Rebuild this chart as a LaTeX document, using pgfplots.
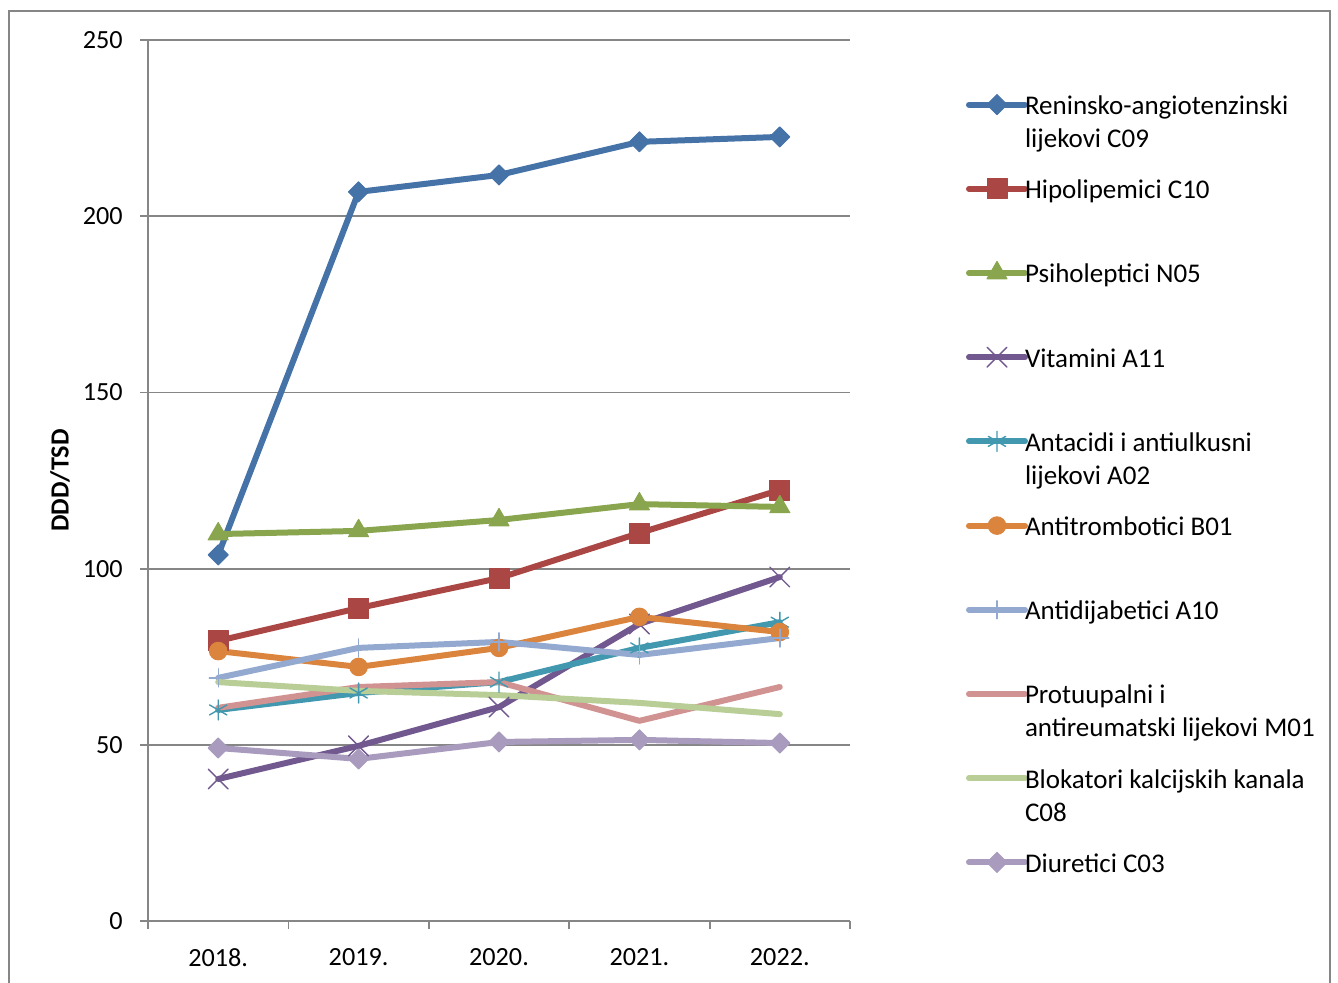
\documentclass[border=0pt]{standalone}
\usepackage{fontspec}
\setmainfont{Carlito}
\usepackage{pgfplots}
\pgfplotsset{compat=1.18}
\definecolor{cA}{HTML}{4572A7}
\definecolor{cB}{HTML}{AA4643}
\definecolor{cC}{HTML}{89A54E}
\definecolor{cD}{HTML}{71588F}
\definecolor{cE}{HTML}{4198AF}
\definecolor{cF}{HTML}{DB843D}
\definecolor{cG}{HTML}{93A9CF}
\definecolor{cH}{HTML}{D19392}
\definecolor{cI}{HTML}{B9CD96}
\definecolor{cJ}{HTML}{A99BBD}
\definecolor{axgray}{HTML}{868686}
\newcommand{\legt}[1]{\parbox[t]{8cm}{\raggedright #1}}
\begin{document}
\begin{tikzpicture}
\useasboundingbox (0,0) rectangle (669pt,491pt);
\draw[axgray, line width=0.9pt] (4.5pt,-10pt) rectangle (665pt,485.5pt);
\begin{axis}[
  at={(74pt,30.5pt)}, anchor=south west,
  scale only axis, width=351pt, height=440.5pt,
  xmin=-0.5, xmax=4.5, ymin=0, ymax=250,
  axis x line=bottom, axis y line=left,
  axis line style={-, axgray, line width=0.9pt},
  tick align=outside, major tick length=4pt,
  tick style={axgray, line width=0.9pt},
  xtick={-0.5,0.5,...,4.5}, xticklabels={,,,,,,},
  extra x ticks={0,1,2,3,4},
  extra x tick labels={2018.,2019.,2020.,2021.,2022.},
  extra x tick style={major tick length=0pt},
  ytick={0,50,...,250},
  ymajorgrids, grid style={axgray, line width=0.9pt},
  /pgf/number format/assume math mode=true,
  tick label style={font=\fontsize{13.1}{15}\selectfont},
  yticklabel style={anchor=east, inner sep=0pt, xshift=-8.5pt},
  xticklabel style={anchor=north, inner sep=0pt, yshift=-13.5pt},
  ylabel={\bfseries DDD/TSD},
  every axis y label/.style={at={(axis description cs:0,0.5)}, xshift=-44pt, rotate=90, anchor=center, font=\fontsize{13.1}{15}\selectfont},
  every axis plot/.append style={line width=3pt, line join=round, line cap=round},
  legend style={at={(1.16524,0.9426)}, anchor=north west, draw=none, fill=none,
    inner sep=0pt, outer sep=0pt, column sep=-1.5pt, row sep=0pt,
    cells={anchor=base west}, nodes={inner sep=0pt, outer sep=0pt, text height=12pt, text depth=30.1pt},
    font=\fontsize{13.5}{16.5}\selectfont},
  legend image code/.code={\draw[mark repeat=2,mark phase=2,#1] plot coordinates {(0pt,5pt) (14pt,5pt) (28pt,5pt)};},
]
\addplot[cA, mark=square*, mark size=3.55pt, mark options={solid, rotate=45, line width=0.5pt}]
  coordinates {(0,103.9) (1,206.9) (2,211.7) (3,221.1) (4,222.5)};
\addlegendentry{\legt{Reninsko-angiotenzinski\\lijekovi C09}}
\addplot[cB, mark=square*, mark size=5pt, mark options={solid, line width=0.5pt}]
  coordinates {(0,79.5) (1,88.8) (2,97.3) (3,110.1) (4,122.3)};
\addlegendentry{\legt{Hipolipemici C10}}
\addplot[cC, mark=triangle*, mark size=5.8pt, mark options={solid, line width=0.5pt}]
  coordinates {(0,109.8) (1,110.7) (2,113.8) (3,118.3) (4,117.5)};
\addlegendentry{\legt{Psiholeptici N05}}
\addplot[cD, mark=x, mark size=7pt, mark options={solid, line width=0.7pt}]
  coordinates {(0,40.3) (1,49.7) (2,60.7) (3,84.3) (4,97.6)};
\addlegendentry{\legt{Vitamini A11}}
\addplot[cE, mark=asterisk, mark size=5pt, mark options={solid, line width=0.7pt}]
  coordinates {(0,59.9) (1,64.7) (2,67.8) (3,77.5) (4,84.8)};
\addlegendentry{\legt{Antacidi i antiulkusni\\lijekovi A02}}
\addplot[cF, mark=*, mark size=4.4pt, mark options={solid, line width=0.5pt}]
  coordinates {(0,76.6) (1,72.1) (2,77.5) (3,86.3) (4,82.0)};
\addlegendentry{\legt{Antitrombotici B01}}
\addplot[cG, mark=+, mark size=4.5pt, mark options={solid, line width=0.7pt}]
  coordinates {(0,69.0) (1,77.5) (2,79.2) (3,75.5) (4,80.3)};
\addlegendentry{\legt{Antidijabetici A10}}
\addplot[cH, no marks]
  coordinates {(0,60.5) (1,66.4) (2,67.8) (3,56.8) (4,66.4)};
\addlegendentry{\legt{Protuupalni i\\antireumatski lijekovi M01}}
\addplot[cI, no marks]
  coordinates {(0,67.8) (1,65.3) (2,64.1) (3,61.9) (4,58.7)};
\addlegendentry{\legt{Blokatori kalcijskih kanala\\C08}}
\addplot[cJ, mark=square*, mark size=3.55pt, mark options={solid, rotate=45, line width=0.5pt}]
  coordinates {(0,49.1) (1,46.0) (2,50.8) (3,51.4) (4,50.5)};
\addlegendentry{\legt{Diuretici C03}}
\end{axis}
\end{tikzpicture}
\end{document}
